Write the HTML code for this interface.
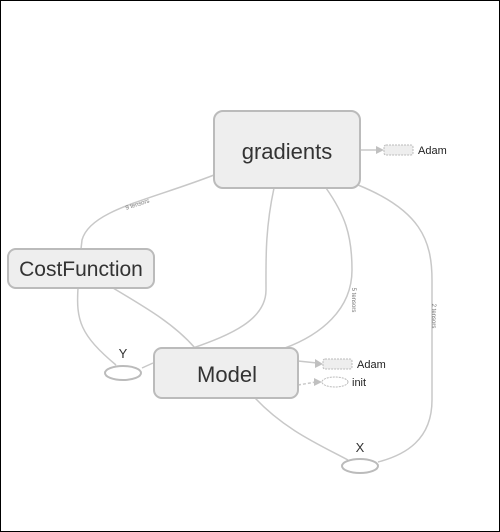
<!DOCTYPE html>
<html><head><style>
html,body{margin:0;padding:0;background:#fff}
svg{display:block}
text{font-family:"Liberation Sans",sans-serif}
</style></head><body>
<svg width="500" height="532" viewBox="0 0 500 532">
<rect x="0.5" y="0.5" width="499" height="531" fill="#fff" stroke="#000"/>
<g fill="none" stroke="#c8c8c8" stroke-width="1.5">
<path d="M214 175 C150 200 90 210 82 240 L81 249"/>
<path d="M274 188 C265 230 266 260 266 290 C266 320 230 335 193 348"/>
<path d="M326 188 C345 215 352 235 352 270 C352 310 320 335 285 348"/>
<path d="M358 185 C420 210 432 240 432 280 L432 400 C432 440 405 455 378 462"/>
<path d="M78 288 C76 320 80 335 116 365"/>
<path d="M113 288 C150 310 175 325 195 348"/>
<path d="M142 368 L153 363"/>
<path d="M255 398 C285 430 320 445 348 460"/>
<path d="M360 150 L378 150"/>
<path d="M298 361 L317 363"/>
<path d="M298 385 L316 382" stroke-dasharray="3,2"/>
</g>
<g fill="#c0c0c0">
<polygon points="376,146 384,150 376,154"/>
<polygon points="315,359 323,364 315,368"/>
<polygon points="314,378 322,382 314,386"/>
</g>
<rect x="214" y="111" width="146" height="77" rx="9" fill="#eee" stroke="#bbb" stroke-width="2"/>
<text x="287" y="159" font-size="22" fill="#333" text-anchor="middle">gradients</text>
<rect x="8" y="249" width="146" height="39" rx="8" fill="#eee" stroke="#bbb" stroke-width="2"/>
<text x="81" y="276" font-size="21" fill="#333" text-anchor="middle">CostFunction</text>
<rect x="154" y="348" width="144" height="50" rx="8" fill="#eee" stroke="#bbb" stroke-width="2"/>
<text x="227" y="382" font-size="22" fill="#333" text-anchor="middle">Model</text>
<ellipse cx="123" cy="373" rx="18" ry="7" fill="#fff" stroke="#bbb" stroke-width="2"/>
<text x="123" y="358" font-size="13" fill="#333" text-anchor="middle">Y</text>
<ellipse cx="360" cy="466" rx="18" ry="7" fill="#fff" stroke="#bbb" stroke-width="2"/>
<text x="360" y="452" font-size="13" fill="#333" text-anchor="middle">X</text>
<rect x="384" y="145" width="29" height="10" rx="2" fill="#eee" stroke="#bbb" stroke-dasharray="2,1"/>
<text x="418" y="154" font-size="11" fill="#222">Adam</text>
<rect x="323" y="359" width="29" height="10" rx="2" fill="#eee" stroke="#bbb" stroke-dasharray="2,1"/>
<text x="357" y="368" font-size="11" fill="#222">Adam</text>
<ellipse cx="335" cy="382" rx="13" ry="5" fill="#fff" stroke="#bbb" stroke-dasharray="2,1"/>
<text x="352" y="386" font-size="11" fill="#222">init</text>
<g font-size="6" fill="#777">
<text x="138" y="206" transform="rotate(-18 138 206)" text-anchor="middle">9 tensors</text>
<text x="352" y="300" transform="rotate(90 352 300)" text-anchor="middle">5 tensors</text>
<text x="432" y="316" transform="rotate(90 432 316)" text-anchor="middle">2 tensors</text>
</g>
</svg>
</body></html>
